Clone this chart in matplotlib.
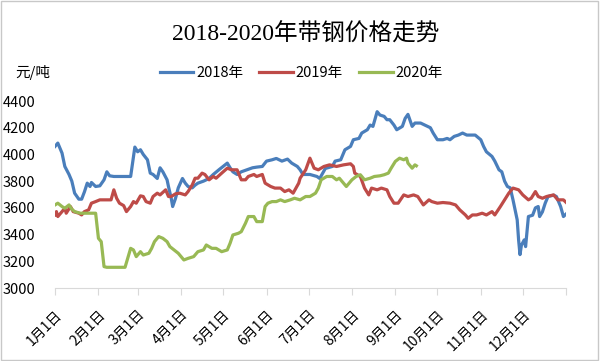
import matplotlib
matplotlib.use('Agg')
import matplotlib.pyplot as plt
from matplotlib.patches import Rectangle

plt.rcParams['font.family'] = ['Noto Sans CJK SC', 'DejaVu Sans']

# day of year (0 = Jan 1) and price
days_2018 = [0, 2, 5, 7, 10, 12, 14, 17, 19, 21, 23, 25, 26, 29, 32, 35, 37, 39, 42, 54,
             57, 59, 61, 63, 66, 68, 70, 73, 75, 77, 80, 81, 83, 84, 86, 88, 91, 93, 95, 98,
             100, 102, 106, 110, 113, 117, 120, 123, 125, 127, 130, 133, 137, 141, 144, 148,
             151, 155, 158, 162, 166, 169, 173, 175, 177, 182, 187, 189, 193, 198, 200, 204,
             207, 211, 213, 217, 219, 223, 225, 227, 230, 232, 235, 237, 239, 242, 244, 248,
             250, 252, 255, 257, 261, 264, 268, 270, 273, 277, 280, 282, 285, 288, 291, 294,
             300, 304, 306, 308, 312, 314, 317, 319, 321, 323, 325, 327, 330, 331, 332, 333,
             335, 336, 338, 341, 343, 345, 346, 348, 350, 352, 356, 358, 361, 363, 365]
price_2018 = [4060, 4085, 4010, 3910, 3850, 3800, 3710, 3665, 3665, 3720, 3785, 3760, 3790, 3760,
              3765, 3810, 3870, 3840, 3835, 3835, 4055, 4020, 4035, 4000, 3960, 3860, 3850, 3820,
              3900, 3870, 3810, 3760, 3670, 3610, 3670, 3750, 3820, 3785, 3760, 3750, 3770, 3785,
              3800, 3820, 3850, 3885, 3910, 3935, 3900, 3870, 3850, 3870, 3885, 3900, 3905, 3910,
              3950, 3960, 3970, 3950, 3965, 3935, 3910, 3885, 3850, 3850, 3835, 3820, 3895, 3910,
              3950, 3960, 4035, 4060, 4110, 4120, 4160, 4185, 4220, 4210, 4320, 4295, 4285, 4260,
              4260, 4220, 4185, 4210, 4270, 4300, 4210, 4235, 4235, 4220, 4200, 4160, 4110, 4110,
              4120, 4110, 4135, 4145, 4160, 4145, 4145, 4110, 4060, 4020, 3985, 3950, 3885, 3870,
              3800, 3760, 3750, 3660, 3510, 3360, 3250, 3320, 3360, 3310, 3535, 3545, 3600, 3610,
              3535, 3570, 3635, 3685, 3695, 3685, 3610, 3535, 3555]

days_2019 = [0, 1, 2, 5, 7, 8, 11, 13, 17, 19, 21, 24, 26, 29, 32, 40, 42, 44, 46, 49, 51, 54,
             56, 58, 61, 63, 65, 68, 70, 73, 75, 79, 81, 83, 86, 89, 93, 95, 98, 100, 102, 105,
             107, 110, 113, 115, 119, 123, 126, 130, 133, 136, 138, 142, 144, 148, 150, 154,
             157, 161, 164, 167, 170, 174, 175, 179, 182, 185, 188, 192, 196, 201, 206, 211,
             213, 214, 218, 221, 224, 226, 230, 233, 237, 239, 242, 245, 249, 252, 256, 259,
             263, 267, 269, 273, 277, 282, 286, 289, 293, 295, 298, 301, 305, 308, 312, 314,
             318, 321, 324, 327, 331, 334, 338, 340, 343, 345, 348, 351, 356, 359, 363, 365]
price_2019 = [3547, 3572, 3535, 3572, 3597, 3560, 3610, 3572, 3560, 3547, 3572, 3585, 3635, 3647,
              3660, 3660, 3735, 3672, 3635, 3617, 3572, 3610, 3647, 3635, 3690, 3685, 3647, 3635,
              3685, 3710, 3697, 3735, 3685, 3685, 3705, 3710, 3697, 3722, 3772, 3822, 3822, 3860,
              3850, 3810, 3835, 3822, 3860, 3897, 3885, 3885, 3810, 3810, 3835, 3850, 3835, 3850,
              3785, 3760, 3748, 3748, 3722, 3735, 3710, 3785, 3822, 3885, 3972, 3897, 3885, 3910,
              3922, 3910, 3922, 3930, 3910, 3860, 3835, 3748, 3697, 3748, 3735, 3748, 3735, 3685,
              3635, 3635, 3697, 3685, 3697, 3685, 3622, 3660, 3647, 3635, 3640, 3635, 3622, 3585,
              3547, 3522, 3547, 3547, 3560, 3547, 3572, 3547, 3610, 3660, 3710, 3748, 3735, 3697,
              3660, 3672, 3722, 3685, 3672, 3685, 3697, 3660, 3660, 3640]

days_2020 = [0, 2, 5, 7, 10, 12, 14, 18, 22, 29, 31, 33, 35, 37, 50, 54, 56, 58, 61, 63, 67, 69,
             71, 74, 77, 80, 82, 85, 88, 92, 95, 99, 102, 106, 108, 112, 115, 119, 123, 125, 127,
             131, 133, 136, 138, 142, 144, 148, 150, 152, 155, 158, 161, 164, 168, 171, 175,
             179, 182, 186, 188, 190, 194, 198, 201, 203, 208, 212, 215, 218, 221, 225, 228,
             232, 235, 238, 240, 243, 246, 249, 251, 252, 255, 257, 258]
price_2020 = [3622, 3635, 3610, 3597, 3622, 3590, 3572, 3560, 3560, 3560, 3372, 3347, 3160, 3155,
              3155, 3297, 3285, 3235, 3272, 3247, 3260, 3297, 3347, 3385, 3372, 3347, 3310, 3285,
              3260, 3210, 3222, 3235, 3272, 3285, 3322, 3297, 3297, 3272, 3285, 3335, 3397, 3410,
              3422, 3485, 3535, 3535, 3497, 3497, 3610, 3635, 3647, 3647, 3660, 3647, 3660, 3672,
              3660, 3685, 3685, 3710, 3748, 3810, 3835, 3835, 3810, 3822, 3760, 3810, 3835, 3848,
              3810, 3822, 3835, 3840, 3848, 3860, 3897, 3948, 3972, 3960, 3972, 3935, 3897, 3922,
              3915]

month_starts = [0, 31, 59, 90, 120, 151, 181, 212, 243, 273, 304, 334]
month_labels = ['%d月1日' % m for m in range(1, 13)]
y_ticks = [3000, 3200, 3400, 3600, 3800, 4000, 4200, 4400]

fig = plt.figure(figsize=(6, 3.61), dpi=100)
ax = fig.add_axes([0.0917, 0.2022, 0.852, 0.518])

ax.plot(days_2018, price_2018, color='#4a7ebb', lw=2.3, label='2018年')
ax.plot(days_2019, price_2019, color='#be4b48', lw=2.3, label='2019年')
ax.plot(days_2020, price_2020, color='#98b954', lw=2.3, label='2020年')

ax.set_xlim(0, 365)
ax.set_ylim(3000, 4400)
ax.set_yticks(y_ticks)
ax.set_xticks(month_starts + [365])
ax.set_xticklabels(month_labels + [''], rotation=45, ha='right', va='top',
                   rotation_mode='anchor', fontsize=10)
ax.tick_params(axis='y', length=0, pad=14, labelsize=10.5)
ax.tick_params(axis='x', direction='out', length=5, color='#d9d9d9', pad=9)
for s in ['left', 'right', 'top']:
    ax.spines[s].set_visible(False)
ax.spines['bottom'].set_color('#d9d9d9')

fig.suptitle('2018-2020年带钢价格走势', y=0.935, x=0.51, fontsize=17,
             family=['Liberation Serif', 'Noto Sans CJK SC'])
fig.text(0.025, 0.798, '元/吨', fontsize=10.5, va='center')
fig.legend(loc='center', bbox_to_anchor=(0.502, 0.798), ncol=3, frameon=False,
           fontsize=10.5, handlelength=2.3, handletextpad=0.2, columnspacing=1.1)

fig.patches.append(Rectangle((0.002, 0.003), 0.995, 0.993, transform=fig.transFigure,
                             fill=False, edgecolor='#c8c8c8', lw=1))

fig.savefig('out.png', dpi=100)
